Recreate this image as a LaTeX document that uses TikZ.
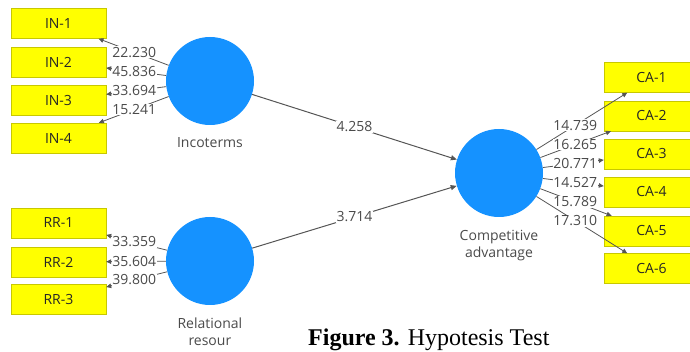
\documentclass[tikz,border=0pt]{standalone}
\usepackage{fontspec}
\setmainfont{Open Sans}
\newfontfamily\capfont{Liberation Serif}
\usetikzlibrary{calc,arrows.meta}
\definecolor{boxyellow}{HTML}{FFFF00}
\definecolor{boxedge}{HTML}{C8C800}
\definecolor{lvblue}{HTML}{1592FF}
\definecolor{txtgray}{HTML}{4A4A4A}
\definecolor{linegray}{HTML}{555555}
\tikzset{
  ind/.style={draw=boxedge, fill=boxyellow, minimum width=95pt, minimum height=30pt, inner sep=0pt, font=\fontsize{14}{16}\selectfont, text=black!85},
  lv/.style={circle, fill=lvblue, minimum size=88pt, inner sep=0pt},
  lvname/.style={font=\fontsize{14}{17}\selectfont, text=txtgray, align=center},
  ld/.style={draw=linegray, line width=0.8pt, -{Triangle[length=5pt,width=4.5pt]}},
  pathln/.style={draw=linegray, line width=1pt, -{Triangle[length=6pt,width=5pt]}},
  lbl/.style={fill=white, inner sep=0.6pt, font=\fontsize{14}{16}\selectfont, text=txtgray}
}
\begin{document}
\begin{tikzpicture}[x=1pt,y=-1pt]
\useasboundingbox (0,0) rectangle (690,352);
\clip (0,0) rectangle (690,352);
% indicator boxes
\node[ind] (in1) at (58.5,23.5) {IN-1};
\node[ind] (in2) at (58.5,62) {IN-2};
\node[ind] (in3) at (58.5,100.5) {IN-3};
\node[ind] (in4) at (58.5,138) {IN-4};
\node[ind] (rr1) at (58.5,223) {RR-1};
\node[ind] (rr2) at (58.5,262) {RR-2};
\node[ind] (rr3) at (58.5,299) {RR-3};
\node[ind] (ca1) at (651.5,77.5) {CA-1};
\node[ind] (ca2) at (651.5,116) {CA-2};
\node[ind] (ca3) at (651.5,154) {CA-3};
\node[ind] (ca4) at (651.5,192) {CA-4};
\node[ind] (ca5) at (651.5,231) {CA-5};
\node[ind] (ca6) at (651.5,268.5) {CA-6};
% latent variables
\node[lv] (inc) at (210,81) {};
\node[lv] (rel) at (210,261) {};
\node[lv] (comp) at (499,173) {};
\node[lvname] (incname) at (210,143) {Incoterms};
\node[lvname, anchor=north west] (relname) at (174,314) {Relational\\resour};
\node[lvname] (compname) at (499,246) {Competitive\\advantage};
% structural paths
\draw[pathln] (inc) -- (comp);
\draw[pathln] (rel) -- (comp);
\node[lbl] (p1) at ($(inc.center)!0.5!(comp.center)$) {4.258};
\node[lbl] (p2) at ($(rel.center)!0.5!(comp.center)$) {3.714};
% outer loadings
\foreach \b/\v in {in1/22.230,in2/45.836,in3/33.694,in4/15.241}{
  \draw[ld] (inc) -- (\b);
  \node[lbl] at ($(inc.center)!0.5!(\b.center)$) {\v};
}
\foreach \b/\v in {rr1/33.359,rr2/35.604,rr3/39.800}{
  \draw[ld] (rel) -- (\b);
  \node[lbl] at ($(rel.center)!0.5!(\b.center)$) {\v};
}
\foreach \b/\v in {ca1/14.739,ca2/16.265,ca3/20.771,ca4/14.527,ca5/15.789,ca6/17.310}{
  \draw[ld] (comp) -- (\b);
  \node[lbl] at ($(comp.center)!0.5!(\b.center)$) {\v};
}
% caption
\node[anchor=base west, font=\capfont\fontsize{24}{27}\selectfont, inner sep=0pt] (cap) at (308,345) {\textbf{Figure 3.} Hypotesis Test};
\end{tikzpicture}
\end{document}
